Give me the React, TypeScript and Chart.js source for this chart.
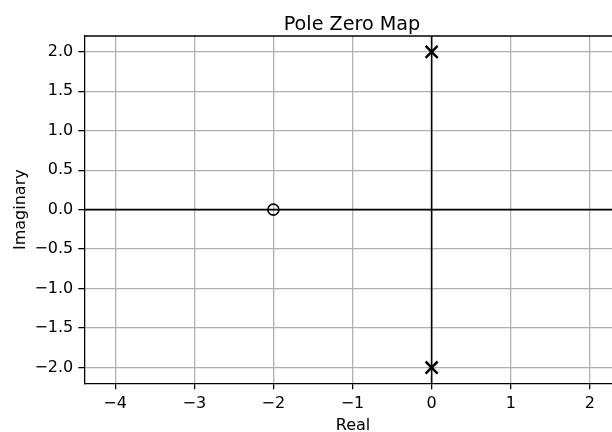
import React, { useEffect, useRef } from "react";
import { Chart, registerables } from "chart.js";

Chart.register(...registerables);

// ---- data ----
const zerosReal = [-2];
const zerosImag = [0];
const polesReal = [0, 0];
const polesImag = [2, -2];
const xTicks = [-4, -3, -2, -1, 0, 1, 2];
const yTicks = [-2.0, -1.5, -1.0, -0.5, 0.0, 0.5, 1.0, 1.5, 2.0];
const xRange = [-4.39, 2.28];
const yRange = [-2.2, 2.2];
const titleText = "Pole Zero Map";
const xLabel = "Real";
const yLabel = "Imaginary";

const FONT = "DejaVu Sans";
const minus = (s: string) => s.replace("-", "\u2212");

const decorPlugin = {
  id: "decor",
  beforeDatasetsDraw(chart: any) {
    const { ctx, chartArea: a, scales } = chart;
    const x0 = scales.x.getPixelForValue(0);
    const y0 = scales.y.getPixelForValue(0);
    ctx.save();
    ctx.strokeStyle = "#000";
    ctx.lineWidth = 1.6;
    ctx.beginPath();
    ctx.moveTo(a.left, y0);
    ctx.lineTo(a.right, y0);
    ctx.moveTo(x0, a.top);
    ctx.lineTo(x0, a.bottom);
    ctx.stroke();
    // top spine
    ctx.lineWidth = 1.28;
    ctx.beginPath();
    ctx.moveTo(a.left, a.top);
    ctx.lineTo(a.right, a.top);
    ctx.stroke();
    ctx.restore();
  },
  afterDraw(chart: any) {
    const { ctx, chartArea: a } = chart;
    ctx.save();
    ctx.fillStyle = "#000";
    ctx.textAlign = "center";
    ctx.textBaseline = "alphabetic";
    ctx.font = `19.2px "${FONT}"`;
    ctx.fillText(titleText, 352, 30);
    ctx.font = `16px "${FONT}"`;
    ctx.fillText(xLabel, 353, 430);
    ctx.translate(24.5, (a.top + a.bottom) / 2);
    ctx.rotate(-Math.PI / 2);
    ctx.fillText(yLabel, 0, 0);
    ctx.restore();
  },
};

export default function App() {
  const ref = useRef<HTMLCanvasElement>(null);
  useEffect(() => {
    document.body.style.margin = "0";
    const canvas = ref.current!;
    const chart = new Chart(canvas, {
      type: "scatter",
      data: {
        datasets: [
          {
            label: "zeros",
            data: zerosReal.map((x, i) => ({ x, y: zerosImag[i] })),
            pointStyle: "circle",
            pointRadius: 5.5,
            pointHoverRadius: 5.5,
            backgroundColor: "rgba(0,0,0,0)",
            borderColor: "#000",
            borderWidth: 1.6,
          },
          {
            label: "poles",
            data: polesReal.map((x, i) => ({ x, y: polesImag[i] })),
            pointStyle: "crossRot",
            pointRadius: 8.5,
            pointHoverRadius: 8.5,
            backgroundColor: "#000",
            borderColor: "#000",
            borderWidth: 2.5,
          },
        ],
      },
      options: {
        animation: false,
        responsive: false,
        events: [],
        layout: { autoPadding: false, padding: { top: 36, left: 0, right: 0, bottom: 0 } },
        plugins: {
          legend: { display: false },
          title: { display: false },
          tooltip: { enabled: false },
        },
        scales: {
          x: {
            type: "linear",
            min: xRange[0],
            max: xRange[1],
            afterBuildTicks: (s: any) => {
              s.ticks = xTicks.map((v) => ({ value: v }));
            },
            afterFit: (s: any) => {
              s.height = 48.7;
              s.paddingLeft = 0;
              s.paddingRight = 0;
            },
            ticks: {
              font: { family: FONT, size: 16 },
              color: "#000",
              padding: 5,
              maxRotation: 0,
              autoSkip: false,
              callback: (v: any) => minus(String(v)),
            },
            grid: {
              color: "#b0b0b0",
              lineWidth: 1.28,
              tickColor: "#000",
              tickLength: 6,
              tickWidth: 1.28,
            },
            border: { display: true, color: "#000", width: 1.28 },
          },
          y: {
            type: "linear",
            min: yRange[0],
            max: yRange[1],
            afterBuildTicks: (s: any) => {
              s.ticks = yTicks.map((v) => ({ value: v }));
            },
            afterFit: (s: any) => {
              s.width = 84.3;
              s.paddingTop = 0;
              s.paddingBottom = 0;
            },
            ticks: {
              font: { family: FONT, size: 16 },
              color: "#000",
              padding: 5,
              autoSkip: false,
              callback: (v: any) => minus(Number(v).toFixed(1)),
            },
            grid: {
              color: "#b0b0b0",
              lineWidth: 1.28,
              tickColor: "#000",
              tickLength: 6,
              tickWidth: 1.28,
            },
            border: { display: true, color: "#000", width: 1.28 },
          },
        },
      },
      plugins: [decorPlugin],
    } as any);
    return () => chart.destroy();
  }, []);
  return (
    <canvas
      ref={ref}
      width={612}
      height={432}
      style={{ display: "block", width: 612, height: 432 }}
    />
  );
}
